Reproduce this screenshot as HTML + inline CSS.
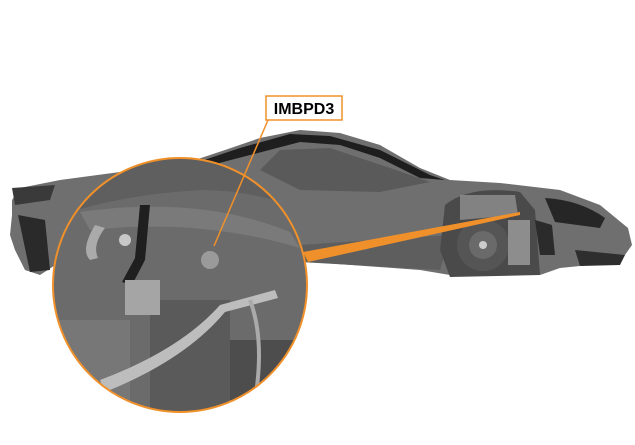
<!DOCTYPE html>
<html><head><style>body{margin:0;background:#fff;width:635px;height:440px;overflow:hidden}</style></head><body>
<svg width="635" height="440" viewBox="0 0 635 440" xmlns="http://www.w3.org/2000/svg">
<defs><clipPath id="c"><circle cx="180" cy="285" r="127"/></clipPath></defs>
<path d="M12,200 L20,188 L60,180 L120,172 L180,165 L225,150 L260,138 L300,130 L340,133 L380,145 L420,168 L450,180 L500,183 L560,190 L600,205 L628,228 L632,245 L620,262 L560,268 L540,275 L450,275 L420,270 L310,262 L150,258 L60,262 L40,275 L25,270 L15,250 L10,235 L12,215 Z" fill="#6f6f6f"/>
<path d="M180,168 L240,148 L290,134 L330,136 L380,150 L430,175 L445,180 L420,178 L380,158 L340,145 L300,142 L250,155 L200,168 Z" fill="#1e1e1e"/>
<path d="M260,170 L280,150 L330,148 L390,168 L430,182 L380,192 L300,190 Z" fill="#5a5a5a"/>
<path d="M70,230 L300,245 L450,235 L440,270 L300,262 L150,258 L60,262 Z" fill="#5e5e5e"/>
<path d="M12,188 L55,185 L50,200 L15,205 Z" fill="#3a3a3a"/>
<path d="M18,215 L45,220 L50,270 L30,272 Z" fill="#2a2a2a"/>
<path d="M445,205 Q470,185 520,192 L535,210 L540,275 L450,277 L440,250 Z" fill="#4a4a4a"/>
<path d="M460,195 L515,195 L518,215 L460,220 Z" fill="#9a9a9a" opacity=".7"/>
<circle cx="483" cy="245" r="26" fill="#555"/>
<circle cx="483" cy="245" r="14" fill="#6a6a6a"/>
<circle cx="483" cy="245" r="4" fill="#ccc"/>
<rect x="508" y="220" width="22" height="45" fill="#8d8d8d"/>
<path d="M545,198 Q580,200 605,218 L600,228 L555,222 Z" fill="#262626"/>
<path d="M535,220 L552,225 L555,255 L540,255 Z" fill="#2b2b2b"/>
<path d="M575,250 L625,255 L620,265 L580,266 Z" fill="#2e2e2e"/>
<polygon points="303,252 520,212 520,215 308,262" fill="#f0902a"/>
<g clip-path="url(#c)">
<rect x="40" y="150" width="290" height="280" fill="#6b6b6b"/>
<path d="M40,150 L330,150 L330,230 Q280,190 200,190 Q120,195 60,215 L40,225 Z" fill="#5f5f5f"/>
<path d="M80,212 Q200,195 290,232 L300,248 Q200,218 90,230 Z" fill="#7a7a7a"/>
<rect x="40" y="320" width="90" height="120" fill="#777"/>
<rect x="150" y="300" width="80" height="130" fill="#5a5a5a"/>
<rect x="230" y="340" width="90" height="60" fill="#4d4d4d"/>
<path d="M140,205 L150,205 L145,260 L132,285 L122,282 L135,258 Z" fill="#1f1f1f"/>
<rect x="125" y="280" width="35" height="35" fill="#a5a5a5"/>
<path d="M100,380 Q180,350 220,305 L275,290 L278,298 L225,312 Q185,360 105,392 Z" fill="#bdbdbd"/>
<path d="M95,225 Q80,250 90,260 L98,258 Q92,245 105,228 Z" fill="#aaa"/>
<path d="M250,300 Q265,340 255,400" stroke="#aaa" stroke-width="4" fill="none"/>
<circle cx="210" cy="260" r="9" fill="#9a9a9a"/>
<circle cx="125" cy="240" r="6" fill="#c8c8c8"/>
</g>
<circle cx="180" cy="285" r="127" fill="none" stroke="#f0902a" stroke-width="2"/>
<line x1="268" y1="120" x2="214" y2="246" stroke="#f0902a" stroke-width="1.5"/>
<rect x="266" y="96" width="76" height="24" fill="#fff" stroke="#f0902a" stroke-width="1.5"/>
<text x="304" y="114" text-anchor="middle" font-family="Liberation Sans, sans-serif" font-weight="bold" font-size="16" fill="#000">IMBPD3</text>
</svg>
</body></html>
